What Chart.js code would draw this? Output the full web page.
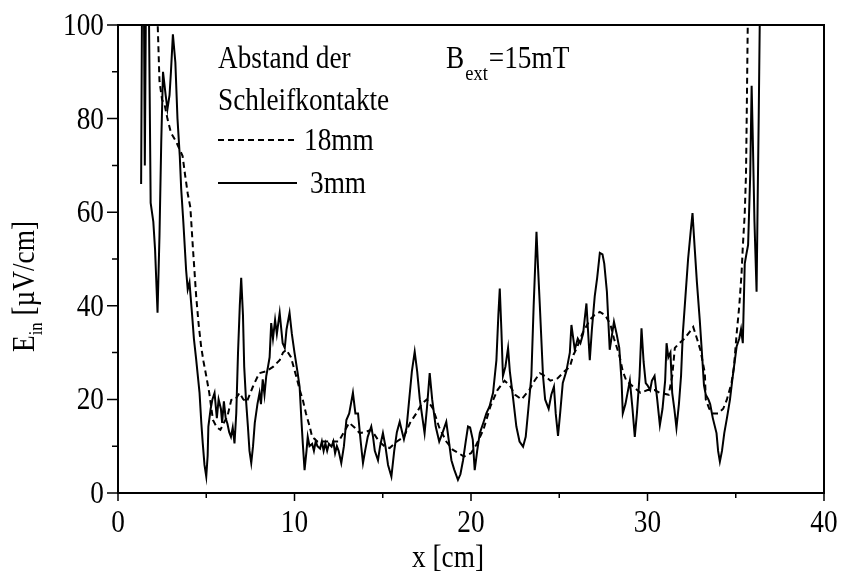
<!DOCTYPE html>
<html>
<head>
<meta charset="utf-8">
<script src="https://cdn.jsdelivr.net/npm/chart.js@4.4.0/dist/chart.umd.min.js"></script>
<style>
  html, body { margin: 0; padding: 0; background: #fff; }
  #wrap { width: 842px; height: 573px; }
</style>
</head>
<body>
<div id="wrap"><canvas id="feld-chart" width="842" height="573"></canvas></div>
<script>
// Achsen
const xTicks = [0, 10, 20, 30, 40];
const xMinorTicks = [5, 15, 25, 35];
const yTicks = [0, 20, 40, 60, 80, 100];
const yMinorTicks = [10, 30, 50, 70, 90];

// Abstand der Schleifkontakte 18mm (gestrichelt)
const x18mm = [2.15, 2.25, 2.35, 2.5, 2.64, 2.8, 3.0, 3.3, 3.66, 3.8, 3.95, 4.1, 4.24, 4.43, 4.57, 4.71, 4.85, 5.0,
  5.17, 5.38, 5.6, 5.8, 6.0, 6.2, 6.42, 6.65, 6.89, 7.1, 7.3, 7.64, 7.8, 8.0, 8.4, 8.8, 9.16, 9.35, 9.53, 9.8,
  10.1, 10.3, 10.47, 10.65, 10.86, 11.0, 11.3, 11.7, 12.1, 12.5, 12.8, 13.1, 13.4, 13.69, 14.0, 14.35, 14.8,
  15.1, 15.39, 15.8, 16.2, 16.55, 16.9, 17.2, 17.5, 17.85, 18.2, 18.6, 18.98, 19.3, 19.6, 20.0, 20.3, 20.7,
  21.1, 21.5, 21.9, 22.2, 22.5, 22.86, 23.3, 23.6, 23.9, 24.2, 24.5, 24.9, 25.3, 25.6, 25.8, 26.0, 26.3, 26.73,
  27.0, 27.3, 27.6, 27.9, 28.1, 28.4, 28.6, 28.8, 29.1, 29.6, 30.0, 30.4, 30.7, 31.2, 31.4, 31.55, 31.8, 32.1,
  32.4, 32.59, 32.8, 33.0, 33.25, 33.3, 33.5, 33.7, 34.0, 34.29, 34.5, 34.76, 34.9, 35.05, 35.2, 35.33, 35.4,
  35.51, 35.58, 35.62, 35.65, 35.68, 35.72];
const e18mm = [104, 100, 88, 84, 83, 80, 77, 75, 72, 68, 64, 61, 52.6, 42, 36, 31.3, 28, 25,
  21.4, 15.6, 14, 13.5, 15, 16.4, 19.9, 20, 21.4, 20, 19.5, 22.7, 24, 25.6, 26, 27, 28.4, 30, 30.6, 29,
  24.9, 22, 19.9, 17, 14.2, 12, 11, 11, 11, 11, 13, 15, 14, 12.8, 13, 13.5, 11,
  10, 9.6, 11, 12, 15, 17, 19, 20, 18, 14, 11, 9.2, 8.5, 7.8, 8.5, 10.3, 13.5,
  18.5, 22, 24, 23, 21, 20, 22, 24, 25.6, 25, 24, 24.5, 26, 27, 29.5, 31, 34, 37,
  38, 38.7, 38, 36, 33, 29.5, 26, 24, 23, 21.4, 22, 22, 21.4, 21, 25, 31, 32, 33,
  34.5, 35.5, 33, 30.5, 25.6, 20, 18, 17, 17, 18, 20, 23.5, 27, 34, 40, 47, 52.6,
  59.8, 68, 80, 90, 100, 104];

// Abstand der Schleifkontakte 3mm (durchgezogen)
const x3mm = [1.31, 1.36, 1.47, 1.52, 1.58, 1.75, 1.85, 2.0, 2.1, 2.24, 2.35, 2.45, 2.55, 2.7, 2.8, 2.92, 3.0,
  3.11, 3.25, 3.37, 3.5, 3.58, 3.7, 3.86, 3.95, 4.05, 4.2, 4.3, 4.43, 4.55, 4.62, 4.72, 4.8, 4.9, 5.0, 5.08,
  5.12, 5.25, 5.35, 5.47, 5.6, 5.7, 5.83, 5.9, 6.0, 6.1, 6.2, 6.3, 6.4, 6.5, 6.6, 6.7, 6.8, 6.9, 6.98, 7.08,
  7.15, 7.25, 7.36, 7.45, 7.55, 7.65, 7.75, 7.9, 8.02, 8.1, 8.2, 8.3, 8.4, 8.5, 8.59, 8.68, 8.78, 8.9, 9.0,
  9.16, 9.33, 9.45, 9.55, 9.72, 9.85, 10.0, 10.18, 10.29, 10.4, 10.47, 10.57, 10.68, 10.75, 10.85, 11.0, 11.1,
  11.2, 11.3, 11.45, 11.55, 11.65, 11.75, 11.85, 11.95, 12.1, 12.2, 12.3, 12.4, 12.5, 12.65, 12.8, 12.94,
  13.1, 13.31, 13.45, 13.6, 13.75, 13.88, 14.0, 14.15, 14.35, 14.45, 14.55, 14.73, 14.85, 15.01, 15.15, 15.3,
  15.49, 15.65, 15.8, 15.96, 16.1, 16.2, 16.35, 16.5, 16.65, 16.81, 16.95, 17.1, 17.25, 17.37, 17.5, 17.66,
  17.8, 18.0, 18.2, 18.4, 18.6, 18.75, 18.89, 19.05, 19.26, 19.4, 19.55, 19.7, 19.83, 19.95, 20.1, 20.21,
  20.35, 20.5, 20.7, 20.87, 21.05, 21.25, 21.44, 21.55, 21.63, 21.72, 21.81, 21.95, 22.1, 22.2, 22.35, 22.57,
  22.75, 22.95, 23.1, 23.25, 23.42, 23.55, 23.71, 23.8, 23.9, 24.08, 24.2, 24.4, 24.55, 24.7, 24.8, 24.93,
  25.05, 25.2, 25.4, 25.6, 25.69, 25.88, 26.05, 26.2, 26.35, 26.54, 26.73, 26.85, 27.01, 27.15, 27.3, 27.45,
  27.55, 27.7, 27.86, 28.1, 28.25, 28.4, 28.53, 28.6, 28.75, 29.0, 29.15, 29.28, 29.4, 29.55, 29.66, 29.78,
  29.9, 30.0, 30.15, 30.25, 30.4, 30.55, 30.7, 30.85, 31.0, 31.08, 31.18, 31.3, 31.4, 31.52, 31.64, 31.78,
  31.9, 32.0, 32.15, 32.3, 32.45, 32.55, 32.68, 32.8, 32.96, 33.1, 33.2, 33.3, 33.45, 33.55, 33.7, 33.91,
  34.0, 34.1, 34.22, 34.35, 34.5, 34.67, 34.8, 34.95, 35.05, 35.2, 35.3, 35.4, 35.51, 35.6, 35.7, 35.82,
  35.9, 35.97, 36.06, 36.18, 36.24, 36.3, 36.37];
const e3mm = [66, 104, 104, 70, 104, 104, 62, 58, 52, 38.5, 55, 75, 90, 85, 82, 85, 90,
  98, 92, 80, 72, 65, 58, 47.6, 43.5, 45, 38, 33, 28.5, 24, 21.4, 15, 10.7, 6, 3.5, 8,
  14.2, 18, 20, 21.4, 16, 20, 18, 15, 19.6, 16, 14.8, 13, 12, 14, 10.6, 17, 30, 40, 46, 38,
  27, 20, 14.2, 9, 6.4, 10, 15, 19, 21.4, 19, 24.3, 21, 25, 27, 29, 36.3, 33, 37, 34,
  38.5, 32, 31, 35, 38.5, 34, 30, 25.6, 22.7, 15, 10.6, 4.9, 9, 12, 10, 10.5, 9,
  11, 10, 9.5, 11, 9, 10.6, 9, 10.5, 9.9, 11, 8.5, 10, 9, 6.4, 10, 15.6,
  17, 21.4, 17, 17, 11, 6.4, 9, 12, 14.2, 12, 9, 7, 10, 12.8, 10, 6,
  3.5, 9, 13, 15.2, 13, 11.5, 14, 20, 26, 30.2, 26, 20, 16, 12.8, 18, 25.6,
  20, 14.2, 11, 13, 15.2, 11, 7, 5, 2.8, 4, 7, 11, 14.2, 14, 11.4, 4.9,
  9, 12.8, 15, 17, 18.5, 21.4, 28.4, 38, 43.7, 35, 25, 27, 31, 26, 21.4, 14.2,
  11, 9.9, 12, 18, 25, 40, 55.8, 48, 40, 25, 20, 18, 21, 22.7, 17, 12.2,
  17, 23.5, 26, 30, 35.9, 30.6, 33, 32, 34, 40.5, 28.4, 35, 42, 46, 51.3, 51,
  49, 43, 30.6, 36.6, 34, 31, 24, 17, 19, 24, 18, 12, 17, 25, 35.2, 28,
  23.5, 23, 22, 24, 25, 20, 14.5, 18, 24, 32, 29, 30, 21.4, 18, 13.9, 19,
  25, 34, 42, 50, 56, 59.8, 52, 45, 37, 29, 23, 21, 20, 19, 16, 12.8,
  9, 6.7, 9, 12.8, 16, 19.9, 24, 28.4, 31.3, 33, 35, 32, 49, 51, 53, 68,
  87, 75, 58, 43, 62, 80, 104];

const SERIF = '"Liberation Serif", "Times New Roman", serif';
const SQUEEZE = 0.88;

// Text etwas schmaler laufen lassen, wie im Druck
function serifText(ctx, str, x, y, size, align) {
  ctx.save();
  ctx.font = size + 'px ' + SERIF;
  ctx.textAlign = align || 'left';
  ctx.textBaseline = 'alphabetic';
  ctx.fillStyle = '#000';
  ctx.translate(x, y);
  ctx.scale(SQUEEZE, 1);
  ctx.fillText(str, 0, 0);
  const w = ctx.measureText(str).width * SQUEEZE;
  ctx.restore();
  return w;
}

const toPoints = (xs, ys) => xs.map((x, i) => ({ x: x, y: ys[i] }));

const dash18 = [6, 4];

// Rahmen, Striche, Beschriftung und Legende
const rahmenPlugin = {
  id: 'rahmen',
  afterDraw(chart) {
    const ctx = chart.ctx;
    const a = chart.chartArea;
    const xs = chart.scales.x;
    const ys = chart.scales.y;
    const fs = 31;

    ctx.save();
    ctx.strokeStyle = '#000';
    ctx.lineWidth = 2;
    ctx.strokeRect(a.left, a.top, a.right - a.left, a.bottom - a.top);

    ctx.lineWidth = 1.5;
    ctx.beginPath();
    xTicks.forEach(v => {
      const px = xs.getPixelForValue(v);
      ctx.moveTo(px, a.bottom);
      ctx.lineTo(px, a.bottom + 8);
    });
    xMinorTicks.forEach(v => {
      const px = xs.getPixelForValue(v);
      ctx.moveTo(px, a.bottom);
      ctx.lineTo(px, a.bottom + 5);
    });
    yTicks.forEach(v => {
      const py = ys.getPixelForValue(v);
      ctx.moveTo(a.left, py);
      ctx.lineTo(a.left - 11, py);
    });
    yMinorTicks.forEach(v => {
      const py = ys.getPixelForValue(v);
      ctx.moveTo(a.left, py);
      ctx.lineTo(a.left - 6, py);
    });
    ctx.stroke();
    ctx.restore();

    xTicks.forEach(v => {
      serifText(ctx, String(v), xs.getPixelForValue(v), a.bottom + 39, fs, 'center');
    });
    yTicks.forEach(v => {
      serifText(ctx, String(v), a.left - 14, ys.getPixelForValue(v) + 10, fs, 'right');
    });

    // x-Achse
    serifText(ctx, 'x [cm]', 448, 567, fs, 'center');

    // y-Achse, gedreht, mit Index
    ctx.save();
    ctx.translate(34, 352);
    ctx.rotate(-Math.PI / 2);
    let w = serifText(ctx, 'E', 0, 0, fs, 'left');
    w += serifText(ctx, 'in', w, 8, 19, 'left');
    serifText(ctx, ' [\u00b5V/cm]', w, 0, fs, 'left');
    ctx.restore();

    // Legende
    const lx = 218;
    serifText(ctx, 'Abstand der', lx, 68, fs);
    serifText(ctx, 'Schleifkontakte', lx, 110, fs);

    ctx.save();
    ctx.strokeStyle = '#000';
    ctx.lineWidth = 2;
    ctx.setLineDash(dash18);
    ctx.beginPath();
    ctx.moveTo(lx, 140);
    ctx.lineTo(lx + 78, 140);
    ctx.stroke();
    ctx.setLineDash([]);
    ctx.beginPath();
    ctx.moveTo(lx, 183);
    ctx.lineTo(lx + 79, 183);
    ctx.stroke();
    ctx.restore();
    serifText(ctx, '18mm', lx + 86, 150, fs);
    serifText(ctx, '3mm', lx + 92, 193, fs);

    // Feld
    let bx = 446;
    bx += serifText(ctx, 'B', bx, 68, fs);
    bx += serifText(ctx, 'ext', bx + 1, 80, 21) + 2;
    serifText(ctx, '=15mT', bx, 68, fs);
  }
};

new Chart(document.getElementById('feld-chart'), {
  type: 'line',
  data: {
    datasets: [{
      label: '3mm',
      data: toPoints(x3mm, e3mm),
      borderColor: '#000',
      borderWidth: 2,
      pointRadius: 0,
      tension: 0,
      fill: false,
      clip: 0
    }, {
      label: '18mm',
      data: toPoints(x18mm, e18mm),
      borderColor: '#000',
      borderWidth: 2,
      borderDash: dash18,
      pointRadius: 0,
      tension: 0,
      fill: false,
      clip: 0
    }]
  },
  options: {
    responsive: false,
    animation: false,
    devicePixelRatio: 1,
    layout: {
      padding: { left: 118, top: 25, right: 18, bottom: 80 }
    },
    scales: {
      x: { type: 'linear', min: 0, max: 40, display: false },
      y: { type: 'linear', min: 0, max: 100, display: false }
    },
    plugins: {
      legend: { display: false },
      tooltip: { enabled: false }
    }
  },
  plugins: [rahmenPlugin]
});
</script>
</body>
</html>
